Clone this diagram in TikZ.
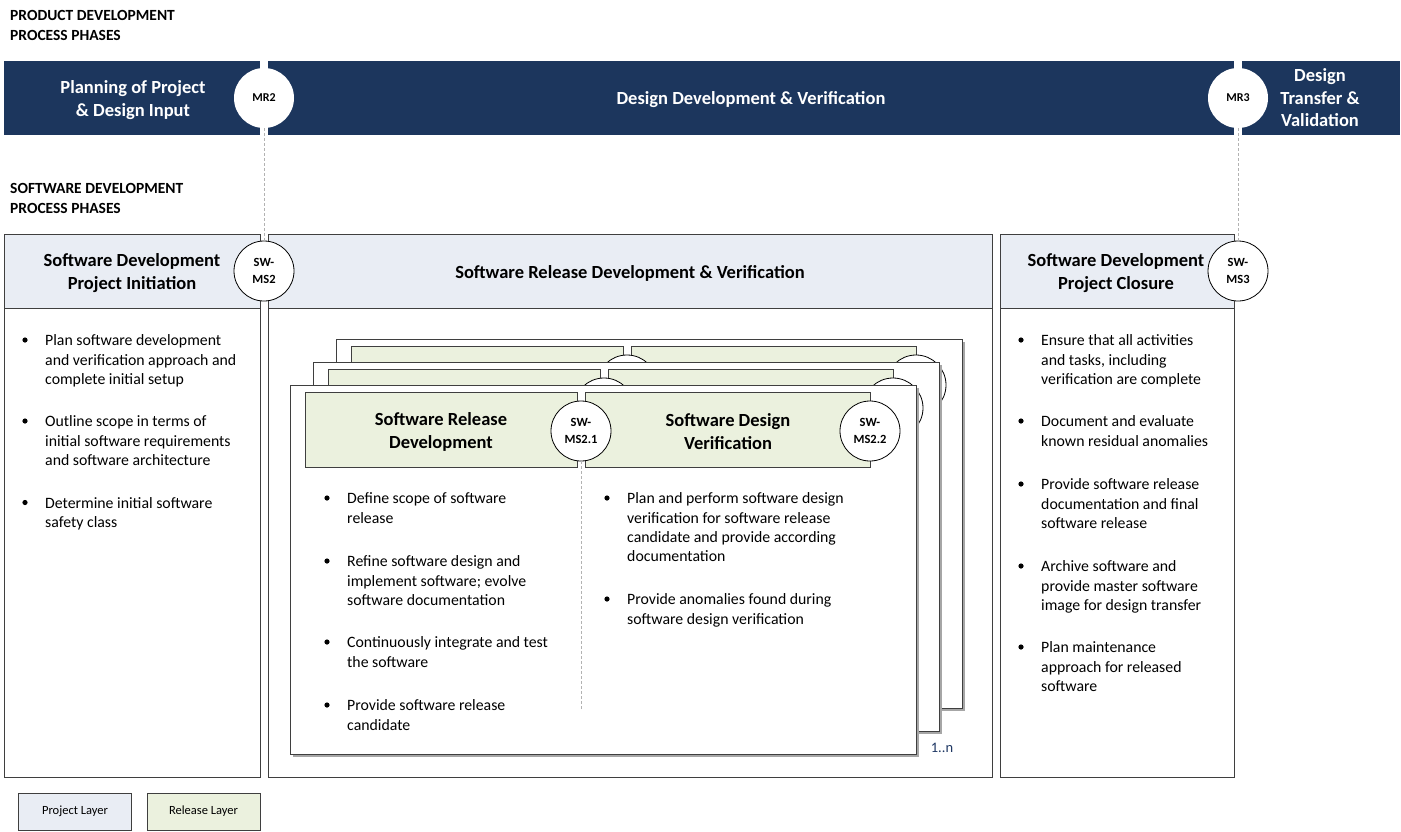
\documentclass[tikz,border=0pt]{standalone}
\usepackage{fontspec}
\setmainfont{Carlito}
\definecolor{bandblue}{HTML}{1C365D}
\definecolor{projfill}{HTML}{E9EDF4}
\definecolor{relfill}{HTML}{EBF1DE}
\definecolor{edgegray}{HTML}{3F3F3F}
\definecolor{countblue}{HTML}{1F3864}

\newcommand\fs[2]{\fontsize{#1}{#2}\selectfont}

\tikzset{
  bandtext/.style={text=white, font=\bfseries\fs{18.5}{22.5}, align=center, inner sep=0},
  sectitle/.style={font=\bfseries\fs{15.5}{19.5}, align=left, anchor=north west, inner sep=0},
  hdrbox/.style={draw=edgegray, fill=projfill, line width=1},
  bodybox/.style={draw=edgegray, fill=white, line width=1},
  hdrtext/.style={font=\bfseries\fs{18.5}{23}, align=center, inner sep=0},
  mrcircle/.style={circle, fill=white, minimum size=60, inner sep=0, font=\bfseries\fs{12}{14}},
  mscircle/.style={circle, draw=black, fill=white, line width=0.8, minimum size=60, inner sep=0, align=center, font=\bfseries\fs{12.5}{16.5}},
  milestone link/.style={draw=black!30, dashed, dash pattern=on 3pt off 2pt, line width=1},
  para/.style={font=\fs{15.8}{19.3}, align=left, anchor=north west, inner sep=0},
  relbox/.style={draw=edgegray, fill=relfill, line width=1},
  card/.style={draw=edgegray, fill=white, line width=1},
  cardshadow/.style={fill=black!35},
  legendbox/.style={draw=edgegray, line width=1, minimum width=113, minimum height=37, inner sep=0, font=\fs{12.5}{15}},
}

% bullet point with its paragraph; #3 is the centre line of the first text line.
% The strut (0.7 x 19.3 high) fixes the top of the first line above its baseline.
\newcommand\bulletpara[4]{%
  \fill (#2,#3) circle[radius=2.6];
  \node[para] (#1) at (#2+20,#3+5.6-13.51) {\strut#4};}

% one release card of the stack: prefix, shift, texts of its two milestones
\newcommand\releasecard[5]{%
  \begin{scope}[shift={(#2,#3)}, name prefix=#1-]
    \fill[cardshadow] (293,388) rectangle (919,757);
    \draw[card] (290,385) rectangle (916,754);
    \draw[relbox] (305,392) rectangle (577,467);
    \draw[relbox] (585,392) rectangle (870,467);
    \node[mscircle] (ms21) at (581,431) {#4};
    \node[mscircle] (ms22) at (870,431) {#5};
  \end{scope}}

\begin{document}
\begin{tikzpicture}[x=1pt, y=-1pt]
\useasboundingbox (0,0) rectangle (1401,831);

% ---------- product development phases ----------
\node[sectitle] (pdtitle) at (10,20.5-13.65) {\strut PRODUCT DEVELOPMENT\\PROCESS PHASES};

\fill[bandblue] (4,61) rectangle (260,135);
\fill[bandblue] (268,61) rectangle (1234,135);
\fill[bandblue] (1242,61) rectangle (1400,135);

\node[bandtext] (planning) at (133,100) {Planning of Project\\\& Design Input};
\node[bandtext] (designdev) at (751,100) {Design Development \& Verification};
\node[bandtext] (transfer) at (1320,98) {Design\\Transfer \&\\Validation};

\node[mrcircle] (mr2) at (264,98) {MR2};
\node[mrcircle] (mr3) at (1238,98) {MR3};

% ---------- software development phases ----------
\node[sectitle] (swtitle) at (10,193.5-13.65) {\strut SOFTWARE DEVELOPMENT\\PROCESS PHASES};

\draw[bodybox] (4,308) rectangle (260,777);
\draw[bodybox] (268,308) rectangle (992,777);
\draw[bodybox] (1000,308) rectangle (1234,777);
\draw[hdrbox] (4,234) rectangle (260,308);
\draw[hdrbox] (268,234) rectangle (992,308);
\draw[hdrbox] (1000,234) rectangle (1234,308);

\node[hdrtext] (initiation) at (132,273) {Software Development\\Project Initiation};
\node[hdrtext] (releasedev) at (630,273) {Software Release Development \& Verification};
\node[hdrtext] (closure) at (1116,273) {Software Development\\Project Closure};

\node[mscircle] (swms2) at (264,271) {SW-\\MS2};
\node[mscircle] (swms3) at (1238,271) {SW-\\MS3};

\draw[milestone link] (mr2) -- (swms2);
\draw[milestone link] (mr3) -- (swms3);

% project initiation tasks
\bulletpara{init1}{25}{340}{Plan software development\\and verification approach and\\complete initial setup}
\bulletpara{init2}{25}{421}{Outline scope in terms of\\initial software requirements\\and software architecture}
\bulletpara{init3}{25}{502.5}{Determine initial software\\safety class}

% project closure tasks
\bulletpara{close1}{1021}{340}{Ensure that all activities\\and tasks, including\\verification are complete}
\bulletpara{close2}{1021}{421}{Document and evaluate\\known residual anomalies}
\bulletpara{close3}{1021}{484}{Provide software release\\documentation and final\\software release}
\bulletpara{close4}{1021}{566}{Archive software and\\provide master software\\image for design transfer}
\bulletpara{close5}{1021}{647}{Plan maintenance\\approach for released\\software}

% ---------- stack of release cards ----------
\releasecard{back}{46}{-46}{}{}
\releasecard{mid}{23}{-23}{}{}
\releasecard{front}{0}{0}{SW-\\MS2.1}{SW-\\MS2.2}

\node[hdrtext] (reldevtitle) at (441,432) {Software Release\\Development};
\node[hdrtext] (verifytitle) at (728,432) {Software Design\\Verification};

\coordinate (splitend) at (581,710);
\draw[milestone link] (front-ms21) -- (splitend);

\bulletpara{rel1}{327}{498}{Define scope of software\\release}
\bulletpara{rel2}{327}{561}{Refine software design and\\implement software; evolve\\software documentation}
\bulletpara{rel3}{327}{642}{Continuously integrate and test\\the software}
\bulletpara{rel4}{327}{705}{Provide software release\\candidate}

\bulletpara{ver1}{607}{498}{Plan and perform software design\\verification for software release\\candidate and provide according\\documentation}
\bulletpara{ver2}{607}{599}{Provide anomalies found during\\software design verification}

\node[text=countblue, font=\fs{14.5}{17}, inner sep=0] (count) at (942,748) {1..n};

% ---------- legend ----------
\node[legendbox, fill=projfill] (legproj) at (75,811.5) {Project Layer};
\node[legendbox, fill=relfill] (legrel) at (203.5,811.5) {Release Layer};
\end{tikzpicture}
\end{document}
